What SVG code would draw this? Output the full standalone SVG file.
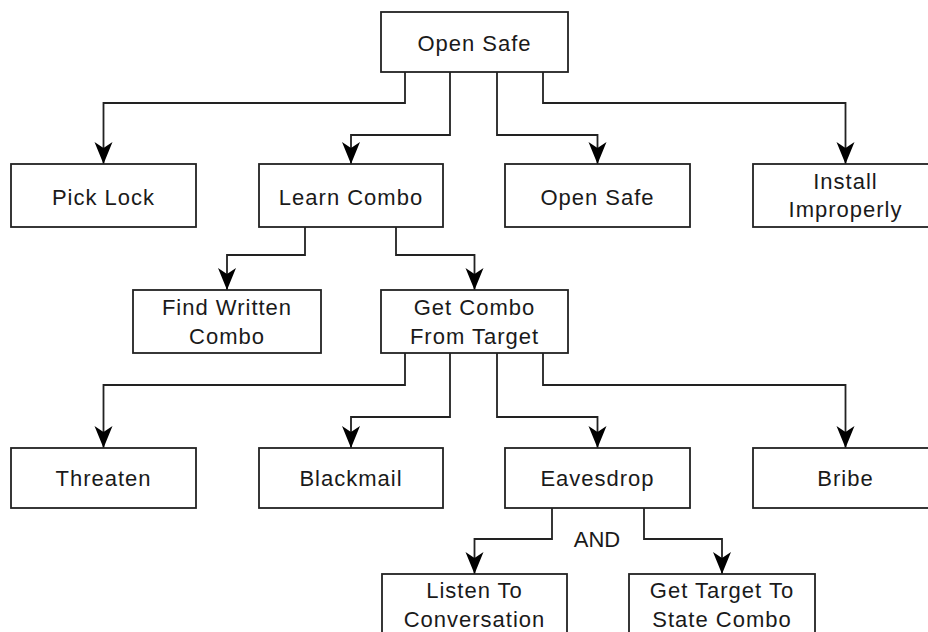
<svg xmlns="http://www.w3.org/2000/svg" width="928" height="632" viewBox="0 0 928 632">
  <style>
    .box { fill: #ffffff; stroke: #222222; stroke-width: 1.8; }
    .lbl { font-family: "Liberation Sans", Arial, sans-serif; font-size: 22px; letter-spacing: 1px; fill: #1a1a1a; text-anchor: middle; }
    .and { letter-spacing: 0; }
    .edge { fill: none; stroke: #222222; stroke-width: 1.8; marker-end: url(#arrow); }
  </style>
  <defs>
    <marker id="arrow" markerUnits="userSpaceOnUse" markerWidth="24" markerHeight="20" viewBox="0 -10 24 20" refX="22" refY="0" orient="auto">
      <path d="M22,0 L0,-9 L6,0 L0,9 Z" fill="#000000"/>
    </marker>
  </defs>
  <rect width="928" height="632" fill="#ffffff"/>

  <g id="connectors">
    <path class="edge" d="M405,72 V103 H103.5 V164"/>
    <path class="edge" d="M450,72 V135 H351 V164"/>
    <path class="edge" d="M497,72 V135 H597.5 V164"/>
    <path class="edge" d="M543,72 V103 H845.5 V164"/>
    <path class="edge" d="M305,227 V255 H227 V290"/>
    <path class="edge" d="M396,227 V255 H474.5 V290"/>
    <path class="edge" d="M405,353 V385 H103.5 V448"/>
    <path class="edge" d="M450,353 V417 H351 V448"/>
    <path class="edge" d="M497,353 V417 H597.5 V448"/>
    <path class="edge" d="M543,353 V385 H845.5 V448"/>
    <path class="edge" d="M552,508 V539 H474.5 V574"/>
    <path class="edge" d="M644,508 V539 H722 V574"/>
    <text class="lbl and" x="597" y="547">AND</text>
  </g>

  <g id="open-safe-root">
    <rect class="box" x="381" y="12" width="187" height="60"/>
    <text class="lbl" x="474.5" y="51">Open Safe</text>
  </g>
  <g id="pick-lock">
    <rect class="box" x="11" y="164" width="185" height="63"/>
    <text class="lbl" x="103.5" y="205">Pick Lock</text>
  </g>
  <g id="learn-combo">
    <rect class="box" x="259" y="164" width="184" height="63"/>
    <text class="lbl" x="351" y="205">Learn Combo</text>
  </g>
  <g id="open-safe">
    <rect class="box" x="505" y="164" width="185" height="63"/>
    <text class="lbl" x="597.5" y="205">Open Safe</text>
  </g>
  <g id="install-improperly">
    <rect class="box" x="753" y="164" width="185" height="63"/>
    <text class="lbl" x="845.5" y="189">Install</text>
    <text class="lbl" x="845.5" y="217">Improperly</text>
  </g>
  <g id="find-written-combo">
    <rect class="box" x="133" y="290" width="188" height="63"/>
    <text class="lbl" x="227" y="315">Find Written</text>
    <text class="lbl" x="227" y="344">Combo</text>
  </g>
  <g id="get-combo-from-target">
    <rect class="box" x="381" y="290" width="187" height="63"/>
    <text class="lbl" x="474.5" y="315">Get Combo</text>
    <text class="lbl" x="474.5" y="344">From Target</text>
  </g>
  <g id="threaten">
    <rect class="box" x="11" y="448" width="185" height="60"/>
    <text class="lbl" x="103.5" y="486">Threaten</text>
  </g>
  <g id="blackmail">
    <rect class="box" x="259" y="448" width="184" height="60"/>
    <text class="lbl" x="351" y="486">Blackmail</text>
  </g>
  <g id="eavesdrop">
    <rect class="box" x="505" y="448" width="185" height="60"/>
    <text class="lbl" x="597.5" y="486">Eavesdrop</text>
  </g>
  <g id="bribe">
    <rect class="box" x="753" y="448" width="185" height="60"/>
    <text class="lbl" x="845.5" y="486">Bribe</text>
  </g>
  <g id="listen-to-conversation">
    <rect class="box" x="382" y="574" width="185" height="63"/>
    <text class="lbl" x="474.5" y="598">Listen To</text>
    <text class="lbl" x="474.5" y="627">Conversation</text>
  </g>
  <g id="get-target-to-state-combo">
    <rect class="box" x="629" y="574" width="186" height="63"/>
    <text class="lbl" x="722" y="598">Get Target To</text>
    <text class="lbl" x="722" y="627">State Combo</text>
  </g>
</svg>
